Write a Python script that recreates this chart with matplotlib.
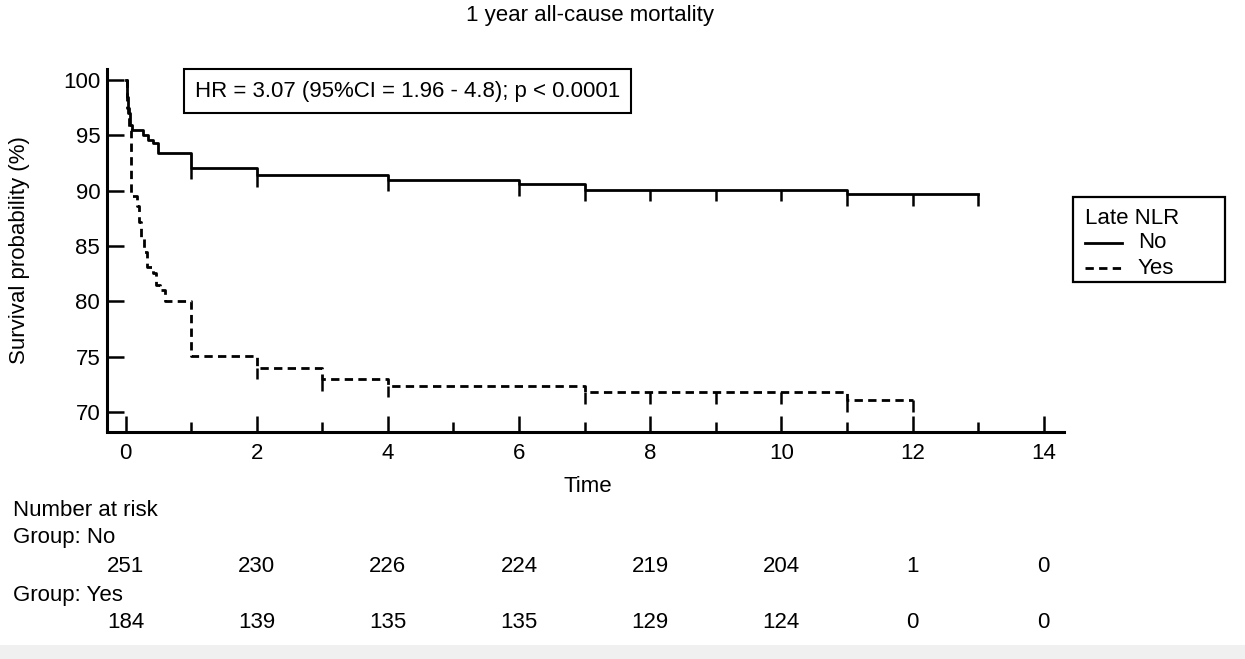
import matplotlib
matplotlib.use('Agg')
from matplotlib import pyplot as plt
from matplotlib.patches import Rectangle
from matplotlib.lines import Line2D
from matplotlib.transforms import blended_transform_factory
import numpy as np

plt.rcParams['font.family'] = ['Liberation Sans', 'DejaVu Sans']

W, H = 1245, 659

# Kaplan-Meier steps: time of each drop, survival (%) after it
no_times = [0.02, 0.04, 0.07, 0.10, 0.27, 0.35, 0.42, 0.50, 1.0, 2.0, 4.0, 6.0, 7.0, 11.0]
no_surv = [98.5, 97.0, 95.9, 95.5, 95.0, 94.6, 94.3, 93.4, 92.1, 91.4, 91.0, 90.6, 90.1, 89.7]
no_end = 13
no_censor = [1, 2, 4, 6, 7, 8, 9, 10, 11, 12, 13]

yes_times = [0.03, 0.06, 0.09, 0.17, 0.20, 0.24, 0.28, 0.32, 0.42, 0.47, 0.52, 0.60,
             1.0, 2.0, 3.0, 4.0, 7.0, 11.0]
yes_surv = [97.5, 95.5, 89.5, 88.6, 87.2, 85.8, 84.5, 83.1, 82.6, 81.5, 81.0, 80.0,
            75.1, 74.0, 73.0, 72.4, 71.8, 71.1]
yes_end = 12
yes_censor = [2, 3, 4, 7, 8, 9, 10, 11, 12]

risk_times = [0, 2, 4, 6, 8, 10, 12, 14]
risk_no = [251, 230, 226, 224, 219, 204, 1, 0]
risk_yes = [184, 139, 135, 135, 129, 124, 0, 0]

FS = 16
LW = 2.0
SOLID = dict(color='black', lw=LW, linestyle='-')
DASHED = dict(color='black', lw=LW, linestyle=(0, (3.0, 1.9)))


def px(x, y):
    # pixel position in the picture -> figure fraction
    return x / W, 1 - y / H


def surv_at(times, surv, t):
    i = np.searchsorted(times, t, side='right')
    return 100.0 if i == 0 else surv[i - 1]


def plot_curve(ax, times, surv, end, censor, style):
    x = [0] + list(times) + [end]
    y = [100] + list(surv) + [surv[-1]]
    ax.plot(x, y, drawstyle='steps-post', **style)
    tops = np.array([surv_at(times, surv, t) for t in censor])
    ax.vlines(censor, tops - 1.05, tops, color='black', lw=1.8)


def main():
    fig = plt.figure(figsize=(W / 100, H / 100), dpi=100)
    x0, y0 = px(106.5, 431.5)
    x1, y1 = px(1064, 69)
    ax = fig.add_axes([x0, y0, x1 - x0, y1 - y0])

    plot_curve(ax, no_times, no_surv, no_end, no_censor, SOLID)
    plot_curve(ax, yes_times, yes_surv, yes_end, yes_censor, DASHED)

    ax.set_xlim(-0.29, 14.31)
    ax.set_ylim(68.25, 101.0)
    ax.set_xticks(range(0, 15, 2))
    ax.set_xticks(range(1, 15, 2), minor=True)
    ax.set_yticks(range(70, 101, 5))
    for side in ['top', 'right']:
        ax.spines[side].set_visible(False)
    for side in ['left', 'bottom']:
        ax.spines[side].set_linewidth(2.2)
    ax.tick_params(axis='y', direction='in', length=12, width=1.8, labelsize=FS, pad=4.5)
    ax.tick_params(axis='x', which='major', direction='in', length=11.5, width=1.8,
                   labelsize=FS, pad=8)
    ax.tick_params(axis='x', which='minor', direction='in', length=7.2, width=1.8)

    fig.text(*px(590, 16), '1 year all-cause mortality', ha='center', va='center', fontsize=FS)
    fig.text(*px(20, 250), 'Survival probability (%)', rotation=90, ha='center',
             va='center', fontsize=FS)
    fig.text(*px(588, 487), 'Time', ha='center', va='center', fontsize=FS)

    fig.text(*px(195, 91), 'HR = 3.07 (95%CI = 1.96 - 4.8); p < 0.0001', ha='left',
             va='center', fontsize=FS,
             bbox=dict(boxstyle='square,pad=0.5', fc='white', ec='black', lw=1.5))

    # legend box drawn by hand so it keeps the wide MedCalc frame
    lx, ly = px(1073, 282)
    rx, ry = px(1225, 197)
    fig.add_artist(Rectangle((lx, ly), rx - lx, ry - ly, transform=fig.transFigure,
                             fill=False, ec='black', lw=1.6))
    fig.text(*px(1085, 218), 'Late NLR', ha='left', va='center', fontsize=FS)
    for yy, label, style in [(243, 'No', SOLID), (268, 'Yes', DASHED)]:
        a = px(1085, yy)
        b = px(1122, yy)
        fig.add_artist(Line2D([a[0], b[0]], [a[1], b[1]], transform=fig.transFigure, **style))
        fig.text(*px(1138, yy), label, ha='left', va='center', fontsize=FS)

    # number at risk table
    fig.text(*px(13, 510), 'Number at risk', ha='left', va='center', fontsize=FS)
    fig.text(*px(13, 537), 'Group: No', ha='left', va='center', fontsize=FS)
    fig.text(*px(13, 595), 'Group: Yes', ha='left', va='center', fontsize=FS)
    trans = blended_transform_factory(ax.transData, fig.transFigure)
    for t, n_no, n_yes in zip(risk_times, risk_no, risk_yes):
        ax.text(t, px(0, 567)[1], str(n_no), transform=trans, ha='center', va='center',
                fontsize=FS, clip_on=False)
        ax.text(t, px(0, 623)[1], str(n_yes), transform=trans, ha='center', va='center',
                fontsize=FS, clip_on=False)

    # light grey strip along the bottom edge of the screenshot
    fig.add_artist(Rectangle((0, 0), 1, 14 / H, transform=fig.transFigure,
                             color='#f0f0f0', lw=0))

    fig.savefig('out.png', dpi=100)


if __name__ == '__main__':
    main()
